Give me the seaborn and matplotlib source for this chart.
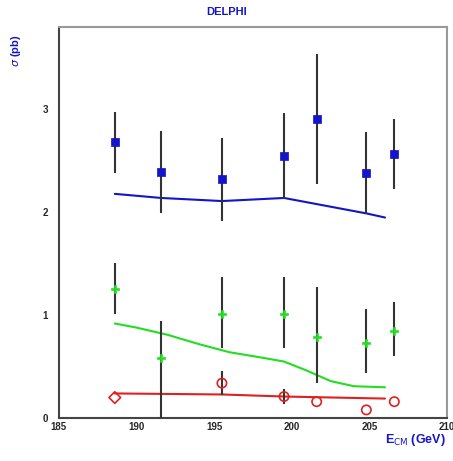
import numpy as np
import pandas as pd
import matplotlib
matplotlib.use('Agg')
import matplotlib.pyplot as plt
import seaborn as sns

sns.set_style('white')
plt.rcParams['font.family'] = ['Liberation Sans', 'DejaVu Sans']

# measured cross sections (pb) at each LEP2 energy
energies = [188.6, 191.6, 195.5, 199.5, 201.6, 204.8, 206.6]

blue_sigma = [2.68, 2.39, 2.32, 2.55, 2.91, 2.38, 2.57]
blue_err = [0.30, 0.40, 0.40, 0.42, 0.63, 0.40, 0.34]

green_sigma = [1.26, 0.58, 1.01, 1.01, 0.79, 0.73, 0.85]
green_err_lo = [0.25, 0.58, 0.33, 0.33, 0.45, 0.29, 0.25]
green_err_hi = [0.25, 0.36, 0.36, 0.36, 0.48, 0.33, 0.28]

red_energies = [188.6, 195.5, 199.5, 201.6, 204.8, 206.6]
red_sigma = [0.20, 0.34, 0.21, 0.16, 0.08, 0.16]
red_err = [0.0, 0.12, 0.07, 0.0, 0.0, 0.0]

# predictions
blue_pred_e = [188.6, 191.6, 195.5, 199.5, 204.8, 206.0]
blue_pred = [2.18, 2.14, 2.11, 2.14, 1.99, 1.95]

green_pred_e = [188.6, 190.0, 192.0, 194.0, 196.0, 198.0, 199.5, 201.0, 202.5, 204.0, 206.0]
green_pred = [0.92, 0.88, 0.81, 0.72, 0.64, 0.59, 0.55, 0.46, 0.36, 0.31, 0.30]

red_pred_e = [188.6, 195.5, 199.5, 206.0]
red_pred = [0.24, 0.23, 0.21, 0.19]

blue = '#1414c8'
green = '#22dd22'
red = '#e02020'
bar_col = '#333333'

fig = plt.figure(figsize=(4.53, 4.61), dpi=100)
ax = fig.add_axes([0.130, 0.093, 0.857, 0.848])

# theory curves
sns.lineplot(x=blue_pred_e, y=blue_pred, color=blue, lw=1.5, ax=ax)
sns.lineplot(x=green_pred_e, y=green_pred, color=green, lw=1.5, ax=ax)
sns.lineplot(x=red_pred_e, y=red_pred, color=red, lw=1.5, ax=ax)

# error bars
ax.errorbar(energies, blue_sigma, yerr=blue_err, fmt='none', ecolor=bar_col, elinewidth=1.5, zorder=3)
ax.errorbar(energies, green_sigma, yerr=[green_err_lo, green_err_hi], fmt='none', ecolor=bar_col,
            elinewidth=1.5, zorder=3)
ax.errorbar(red_energies, red_sigma, yerr=red_err, fmt='none', ecolor=bar_col, elinewidth=1.5, zorder=3)

# data points
sns.scatterplot(x=energies, y=blue_sigma, marker='s', s=40, color=blue, edgecolor=blue, ax=ax, zorder=4)
sns.scatterplot(x=energies, y=green_sigma, marker='P', s=30, color=green, edgecolor=green, ax=ax, zorder=4)
sns.scatterplot(x=red_energies[1:], y=red_sigma[1:], marker='o', s=45, facecolor='none',
                edgecolor=red, linewidth=1.2, ax=ax, zorder=4)
sns.scatterplot(x=red_energies[:1], y=red_sigma[:1], marker='D', s=35, facecolor='none',
                edgecolor=red, linewidth=1.2, ax=ax, zorder=4)

ax.set_xlim(185, 210)
ax.set_ylim(0, 3.8)
ax.set_xticks([185, 190, 195, 200, 205, 210])
ax.set_yticks([0, 1, 2, 3])
ax.set_xticks(np.arange(185, 210.1, 1), minor=True)
ax.set_yticks(np.arange(0, 3.81, 0.2), minor=True)
ax.tick_params(axis='both', which='major', direction='in', length=6, width=1.2,
               labelsize=7, color='#333333')
ax.tick_params(axis='x', which='major', pad=3)
ax.tick_params(axis='y', which='major', pad=8)
ax.tick_params(axis='both', which='minor', direction='in', length=3, width=1.0, color='#333333')
ax.tick_params(top=False, right=False, which='both')
for lab in ax.get_xticklabels() + ax.get_yticklabels():
    lab.set_fontweight('bold')

for side in ['left', 'bottom']:
    ax.spines[side].set_color('#444444')
    ax.spines[side].set_linewidth(1.5)
for side in ['top', 'right']:
    ax.spines[side].set_color('#999999')
    ax.spines[side].set_linewidth(1.5)

fig.text(0.5, 0.975, 'DELPHI', color=blue, fontsize=8, fontweight='bold', ha='center', va='center')
fig.text(0.035, 0.89, r'$\sigma$ (pb)', color=blue, fontsize=8, fontweight='bold', rotation=90,
         ha='center', va='center')
fig.text(0.985, 0.045, r'E$_{\rm CM}$ (GeV)', color=blue, fontsize=9, fontweight='bold',
         ha='right', va='center')

fig.savefig('out.png', dpi=100)
